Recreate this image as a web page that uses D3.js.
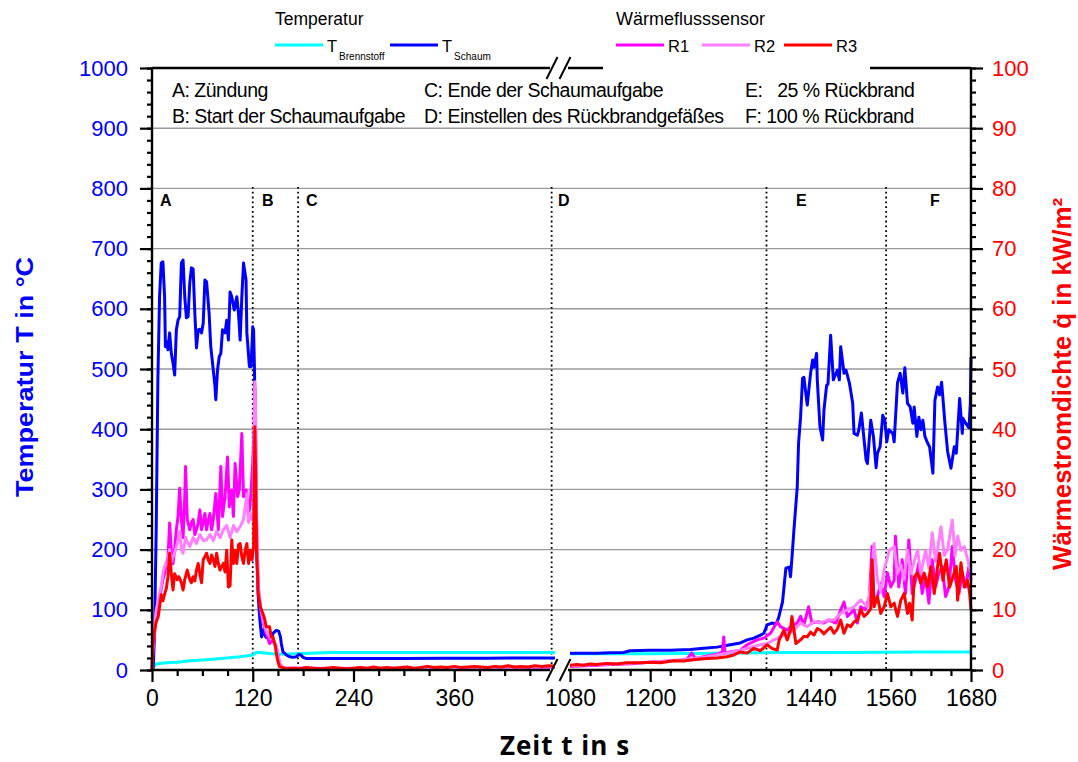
<!DOCTYPE html>
<html>
<head>
<meta charset="utf-8">
<script src="https://cdn.jsdelivr.net/npm/d3@7"></script>
<style>
  body { margin: 0; background: #fff; }
  svg text { font-family: "Liberation Sans", Arial, sans-serif; }
</style>
</head>
<body>
<svg id="chart" width="1078" height="762"></svg>
<script>
// ---------- data: [time in s, value] ----------
// Brennstofftemperatur (°C)
const tBrennstoff = [
  [0,5],[2,6],[5,10],[16,12],[30,13],[45,15.5],[65,17],[85,19.7],[105,22],[120,25],[124,29],[130,29],[136,28],
  [150,26],[172,27],[212,29],[260,29],[320,29],[400,29],[480,29],
  [1080,27],[1200,27],[1300,28],[1400,29],[1500,29],[1600,30],[1680,30]
];
// Schaumtemperatur (°C)
const tSchaum = [
  [0,0],[1.5,3],[3,60],[5,233],[7,482],[9,620],[11,676],[13,678],[15,620],[16,537],[18,545],[19,532],[21,560],
  [23,526],[25,510],[27,490],[29,565],[31,581],[33,587],[35,676],[37,681],[39,620],[41,585],[43,587],[45,643],
  [47,668],[49,666],[51,593],[53,535],[55,565],[57,566],[59,560],[61,576],[63,648],[65,645],[68,593],[70,537],
  [73,498],[75,471],[76,449],[78,498],[80,520],[82,526],[84,565],[87,560],[89,581],[91,548],[93,628],[95,620],
  [98,598],[101,620],[103,593],[105,548],[107,620],[109,676],[112,648],[113,560],[116,504],[118,504],[120,570],
  [121,565],[122,504],[123,400],[124.5,205],[126.5,122],[128.5,83],[130.5,55],[132,67],[134,59],[136,54],
  [140,55],[143,52],[144,61],[148,66],[151,64],[153,55],[154,44],[156,30],[160,25],[164,22],[168,21],[172,22],
  [175,26],[177,25],[180,21],[184,19],[220,19],[260,19],[300,19],[350,19.5],[400,19.5],[450,20],[480,20],
  [1080,28],[1100,28],[1120,28],[1140,28.5],[1160,29],[1170,32],[1200,33],[1230,33],[1260,34],[1280,36],
  [1300,38],[1320,42],[1335,45],[1345,50],[1355,53],[1365,58],[1370,61],[1375,75],[1383,78],[1388,76],
  [1392,86],[1398,113],[1403,169],[1408,171],[1410,155],[1413,200],[1415,232],[1420,304],[1422,377],[1425,420],
  [1428,485],[1430,486],[1435,440],[1440,493],[1443,515],[1445,503],[1449,526],[1450,482],[1454,404],[1458,382],
  [1460,432],[1464,473],[1466,475],[1470,556],[1474,482],[1480,498],[1483,482],[1485,537],[1490,493],[1493,498],
  [1498,477],[1503,443],[1505,393],[1510,390],[1512,398],[1516,427],[1523,349],[1525,343],[1530,415],[1534,388],
  [1538,336],[1540,360],[1544,371],[1548,423],[1551,415],[1554,379],[1557,399],[1563,393],[1565,379],[1570,477],
  [1574,493],[1578,460],[1581,502],[1585,443],[1589,437],[1593,410],[1595,437],[1599,388],[1602,420],[1605,399],
  [1608,415],[1611,388],[1615,377],[1618,371],[1623,327],[1626,448],[1630,470],[1633,457],[1636,478],[1641,410],
  [1645,363],[1650,335],[1655,371],[1658,360],[1663,451],[1667,393],[1668,418],[1672,410],[1677,402],[1679,443],
  [1680,520]
];
// Wärmeflusssensor R1 (kW/m²)
const qR1 = [
  [0,0],[1,3],[3,6],[5,9],[8,11],[11,13.5],[13,15],[15,16],[17,17.7],[19,18.5],[21,24.4],[23,19.9],[25,17.7],
  [27,20],[29,23.3],[31,25.5],[33,30.2],[35,25],[37,22],[39,28.8],[40,33.8],[42,25],[45,23.3],[47,24.5],[49,25],
  [51,22.5],[53,23.3],[55,24.4],[57,26.6],[59,23.3],[61,24.5],[63,26],[65,23.3],[67,24.8],[69,26],[71,23.3],
  [73,25],[76,29.3],[79,23.3],[82,33.8],[84,25.5],[87,28.8],[90,35.4],[92,27.1],[95,29.9],[97,25.5],[99,34.3],
  [102,28.8],[104,29.9],[107,39.3],[109,28.8],[112,29.9],[115,25.5],[117,27.7],[120,34.3],[121.5,39.9],
  [122.5,47],[123.5,38],[124.5,25],[126.5,13.8],[130,9.4],[133,7.5],[136,6.1],[140,4.4],[144,5],[148,3.9],
  [150,2.5],[152,1.1],[156,0.3],[180,0.2],[220,0.2],[260,0.3],[300,0.2],[340,0.3],[380,0.3],[420,0.4],[480,0.4],
  [1080,0.6],[1100,0.7],[1120,0.8],[1140,0.9],[1160,1.0],[1180,1.1],[1200,1.3],[1220,1.4],[1240,1.6],[1255,1.8],
  [1262,2.8],[1268,1.9],[1280,2.2],[1290,2.4],[1300,2.6],[1308,3.0],[1310,5.5],[1312,2.8],[1320,3.0],[1335,3.3],
  [1345,4.2],[1360,5],[1370,5.3],[1380,6.1],[1390,8],[1395,7.2],[1405,6.6],[1410,7.2],[1420,7.8],[1425,8.9],
  [1430,7.5],[1437,10.5],[1442,7.8],[1450,8],[1460,7.8],[1467,8.3],[1478,7.8],[1485,10],[1490,11.3],[1495,8.9],
  [1505,10],[1510,7.8],[1515,10.5],[1522,10],[1528,12.2],[1532,20.5],[1535,11.1],[1540,12.2],[1545,14.4],
  [1550,12.2],[1555,16.1],[1560,13.8],[1565,14.9],[1567,22.2],[1572,13.8],[1577,18.3],[1582,12.7],[1587,21.6],
  [1592,12.7],[1597,14.9],[1602,17.8],[1607,12.7],[1612,15.5],[1617,11.1],[1622,18.3],[1627,13.8],[1632,16.1],
  [1637,17.2],[1642,12.2],[1647,13.8],[1652,20.5],[1657,14.9],[1662,12.7],[1667,16.1],[1672,13.8],[1677,17.2],
  [1680,14.9]
];
// Wärmeflusssensor R2 (kW/m²)
const qR2 = [
  [0,0],[1,3.5],[3,7],[5,10],[8,12],[11,14],[13,16],[15,17.2],[19,18],[21,20],[23,18],[25,18.8],[27,19.5],
  [30,21],[33,23],[35,20],[37,19.4],[40,22],[43,21],[45,20.5],[49,22],[53,21],[57,22.5],[61,21.5],[65,21.6],
  [69,22.5],[73,21.5],[77,23],[81,22],[85,23.3],[89,24],[93,22],[97,24],[101,23],[105,23.8],[109,25],[113,29.3],
  [115,24.5],[117,26],[119,25],[121,25],[121.5,35],[122.5,47.9],[123.5,42],[124.5,26],[126.5,14],[130,10],
  [133,8],[136,6.5],[140,5.5],[144,5.2],[148,4],[150,2.5],[152,1.2],[156,0.4],[200,0.3],[260,0.3],[320,0.3],
  [400,0.4],[480,0.5],
  [1080,0.7],[1120,0.9],[1160,1.1],[1200,1.3],[1240,1.6],[1280,2.1],[1300,2.5],[1320,2.9],[1335,3.3],[1345,3.6],
  [1355,3.9],[1365,4.2],[1375,4.4],[1385,5],[1395,5.5],[1405,6.1],[1415,6.6],[1425,7.8],[1435,7.2],[1445,8],
  [1455,7.8],[1465,8.3],[1475,8.3],[1485,9.4],[1495,10],[1505,10.5],[1515,11.6],[1525,10.5],[1530,14],[1535,21],
  [1540,15],[1545,13],[1550,16.6],[1558,19.9],[1565,20.5],[1570,16],[1575,17.5],[1580,15],[1585,19.9],[1590,16],
  [1595,18],[1600,19.9],[1605,16],[1612,19.9],[1617,17],[1622,22.8],[1627,18],[1630,20],[1635,23.8],[1640,19],
  [1645,20],[1652,24.9],[1656,19],[1660,22.2],[1665,19.9],[1670,20.5],[1675,18.3],[1680,16.1]
];
// Wärmeflusssensor R3 (kW/m²)
const qR3 = [
  [0,0],[1,3.9],[3,6.6],[5,8],[7.5,8.9],[9,10.5],[11,12.5],[13,11.5],[15,12.6],[17,13.5],[19,15.5],[21,19.4],
  [23,16],[25,13.3],[27,16],[30,15],[32,15.5],[35,14.5],[37,13.3],[39,15],[42,16.6],[45,15],[47,14.5],[49,15.5],
  [51,14.8],[53,16.6],[55,17.7],[57,16],[59,14.5],[61,18.3],[63,18.8],[65,19.4],[67,18.3],[69,17.7],[71,19.1],
  [73,18.3],[75,17.2],[77,19.4],[79,17.7],[81,16.6],[83,17.2],[85,17.7],[87,16.3],[89,19.9],[91,13.8],[93,14],
  [95,21.6],[97,17.7],[99,19.9],[101,17.7],[103,20.8],[105,21],[107,18.8],[109,17.7],[111,19.9],[113,21],
  [115,17.7],[117,19.9],[119,18.3],[121,20.5],[121.5,27.7],[122.5,40.4],[123.5,32],[124.5,20.5],[126.5,12.7],
  [129,10.5],[132,9.4],[134,8.6],[136,7.2],[140,7.2],[142,5.5],[144,5.5],[147,3.9],[148,2.8],[150,1.4],
  [152,0.55],[156,0.4],[160,0.2],[168,0.3],[176,0.2],[184,0.4],[192,0.3],[200,0.2],[208,0.3],[216,0.4],
  [224,0.3],[232,0.2],[240,0.3],[248,0.4],[256,0.3],[264,0.5],[272,0.3],[280,0.4],[288,0.3],[296,0.4],
  [304,0.5],[312,0.3],[320,0.4],[328,0.6],[336,0.4],[344,0.5],[352,0.4],[360,0.6],[368,0.4],[376,0.5],
  [384,0.6],[392,0.5],[400,0.4],[408,0.6],[416,0.5],[424,0.7],[432,0.5],[440,0.6],[448,0.5],[456,0.7],
  [464,0.6],[472,0.7],[480,0.65],
  [1080,0.8],[1090,0.9],[1100,0.8],[1110,1.0],[1120,0.9],[1135,1.1],[1150,1.0],[1165,1.2],[1185,1.2],
  [1200,1.3],[1215,1.2],[1235,1.55],[1250,1.5],[1265,1.7],[1285,1.9],[1300,2.0],[1315,2.2],[1325,2.5],
  [1335,3.0],[1345,2.8],[1355,3.6],[1365,3.2],[1375,4.2],[1382,3.6],[1390,3.3],[1393,5.0],[1400,6.6],
  [1405,5],[1410,6.6],[1412,8.9],[1418,4.4],[1425,5],[1430,5.6],[1435,5.5],[1440,6.3],[1445,5.8],[1450,6.9],
  [1455,6.6],[1460,6.0],[1465,6.6],[1470,7.1],[1475,6.1],[1480,6.8],[1485,8.3],[1490,6.1],[1495,7.5],
  [1500,7.2],[1505,8.0],[1510,8.3],[1515,10],[1520,8.9],[1525,9.4],[1530,10.2],[1532,18.3],[1535,10.5],
  [1540,12.2],[1545,9.4],[1550,10.5],[1555,12.7],[1560,10.5],[1565,11.1],[1570,8.9],[1575,11.6],[1580,12.7],
  [1585,9.4],[1588,11.1],[1592,8.3],[1595,15.5],[1600,16.1],[1605,14.4],[1610,16.1],[1615,13.8],[1620,17.2],
  [1625,12.7],[1630,17.2],[1633,19.4],[1638,14.9],[1643,18.3],[1648,13.8],[1653,15.5],[1658,17.2],[1660,11.6],
  [1665,17.8],[1670,13.8],[1675,14.9],[1678,12.7],[1680,10]
];

// Event markers (time in s) and their letters
const eventTimes = [120, 174, 476, 1374, 1553];
const eventLetters = ["A", "B", "C", "D", "E", "F"];
const notes = [
  "A: Zündung", "B: Start der Schaumaufgabe",
  "C: Ende der Schaumaufgabe", "D: Einstellen des Rückbrandgefäßes",
  "E:   25 % Rückbrand", "F: 100 % Rückbrand"
];

// Axis ticks
const xSegments = [[0, 480], [1080, 1680]];
const xMajorTicks = [0, 120, 240, 360, 1080, 1200, 1320, 1440, 1560, 1680];
const xMinorStep = 30;
const tempTicks = d3.range(0, 1001, 100);
const fluxTicks = d3.range(0, 101, 10);

// ---------- layout ----------
const L = 152, R = 971, T = 68, B = 670;
const breakL = 555, breakR = 570;
const svg = d3.select("#chart");

const x = d3.scaleLinear().domain([0, 480, 1080, 1680]).range([L, breakL, breakR, R]);
const yT = d3.scaleLinear().domain([0, 1000]).range([B, T]);
const yQ = d3.scaleLinear().domain([0, 100]).range([B, T]);

const colors = { brenn: "#00FFFF", schaum: "#0000FF", r1: "#FF00FF", r2: "#FF80FF", r3: "#FF0000" };

// gridlines
svg.append("g").selectAll("line")
  .data(tempTicks.filter(d => d > 0 && d < 1000))
  .join("line")
  .attr("x1", L).attr("x2", R)
  .attr("y1", d => yT(d)).attr("y2", d => yT(d))
  .attr("stroke", "#9a9a9a").attr("stroke-width", 1.4);

// dotted event lines
svg.append("g").selectAll("line")
  .data(eventTimes)
  .join("line")
  .attr("x1", d => x(d)).attr("x2", d => x(d))
  .attr("y1", 187).attr("y2", B)
  .attr("stroke", "#000").attr("stroke-width", 1.8)
  .attr("stroke-dasharray", "1.8,3");

// event letters
const letterX = [160, 262, 306, 558, 796, 930];
svg.append("g").selectAll("text")
  .data(eventLetters)
  .join("text")
  .attr("x", (d, i) => letterX[i])
  .attr("y", 206)
  .attr("font-size", 16).attr("font-weight", "bold")
  .text(d => d);

// notes block
const noteX = [172, 172, 424, 424, 745, 745];
const noteY = [97, 123, 97, 123, 97, 123];
svg.append("g").selectAll("text")
  .data(notes)
  .join("text")
  .attr("x", (d, i) => noteX[i]).attr("y", (d, i) => noteY[i])
  .attr("font-size", 19.5).attr("letter-spacing", -0.5)
  .style("white-space", "pre")
  .text(d => d);

// ---------- series ----------
function drawSeries(data, yScale, color, width) {
  xSegments.forEach(([a, b]) => {
    const seg = data.filter(d => d[0] >= a && d[0] <= b);
    svg.append("path")
      .datum(seg)
      .attr("fill", "none")
      .attr("stroke", color)
      .attr("stroke-width", width)
      .attr("stroke-linejoin", "round")
      .attr("d", d3.line().x(d => x(d[0])).y(d => yScale(d[1])));
  });
}
drawSeries(tBrennstoff, yT, colors.brenn, 3);
drawSeries(tSchaum, yT, colors.schaum, 3);
drawSeries(qR1, yQ, colors.r1, 3);
drawSeries(qR2, yQ, colors.r2, 3);
drawSeries(qR3, yQ, colors.r3, 3);

// ---------- axes ----------
const axisColor = "#000";
// bottom axis, per segment
xSegments.forEach(([a, b]) => {
  const majors = xMajorTicks.filter(t => t >= a && t <= b);
  const minors = d3.range(a, b + 1, xMinorStep).filter(t => !majors.includes(t) && t < (a === 0 ? 470 : 1681));
  const gMinor = svg.append("g").attr("transform", `translate(0,${B})`)
    .call(d3.axisBottom(x).tickValues(minors).tickSize(6).tickFormat(""));
  gMinor.select(".domain").remove();
  gMinor.selectAll("line").attr("stroke-width", 2.2);
  const gMajor = svg.append("g").attr("transform", `translate(0,${B})`)
    .call(d3.axisBottom(x).tickValues(majors).tickSize(12).tickPadding(7).tickFormat(d3.format("d")));
  gMajor.select(".domain").remove();
  gMajor.selectAll("line").attr("stroke-width", 2.2);
  gMajor.selectAll("text").attr("font-size", 23).attr("fill", "#000")
    .style("font-family", "'Liberation Sans', Arial, sans-serif").attr("dy", "0.75em");
});

// left axis (temperature)
const gLMinor = svg.append("g").attr("transform", `translate(${L},0)`)
  .call(d3.axisLeft(yT).tickValues(d3.range(0, 1001, 20)).tickSize(5).tickFormat(""));
gLMinor.select(".domain").remove();
gLMinor.selectAll("line").attr("stroke-width", 2.2);
const gL = svg.append("g").attr("transform", `translate(${L},0)`)
  .call(d3.axisLeft(yT).tickValues(tempTicks).tickSize(12).tickPadding(12).tickFormat(d3.format("d")));
gL.select(".domain").remove();
gL.selectAll("line").attr("stroke-width", 2.2);
gL.selectAll("text").attr("font-size", 22).attr("fill", colors.schaum)
  .style("font-family", "'Liberation Sans', Arial, sans-serif");

// right axis (heat flux)
const gRMinor = svg.append("g").attr("transform", `translate(${R},0)`)
  .call(d3.axisRight(yQ).tickValues(d3.range(0, 101, 2)).tickSize(5).tickFormat(""));
gRMinor.select(".domain").remove();
gRMinor.selectAll("line").attr("stroke-width", 2.2);
const gR = svg.append("g").attr("transform", `translate(${R},0)`)
  .call(d3.axisRight(yQ).tickValues(fluxTicks).tickSize(12).tickPadding(9).tickFormat(d3.format("d")));
gR.select(".domain").remove();
gR.selectAll("line").attr("stroke-width", 2.2);
gR.selectAll("text").attr("font-size", 22).attr("fill", colors.r3)
  .style("font-family", "'Liberation Sans', Arial, sans-serif");

// frame lines with break marks
const frame = svg.append("g").attr("stroke", axisColor).attr("stroke-width", 2.4).attr("fill", "none");
frame.append("line").attr("x1", L).attr("x2", L).attr("y1", T).attr("y2", B);
frame.append("line").attr("x1", R).attr("x2", R).attr("y1", T).attr("y2", B);
[B, T].forEach(yy => {
  frame.append("line").attr("x1", L).attr("x2", breakL - 5).attr("y1", yy).attr("y2", yy);
  frame.append("line").attr("x1", breakR - 2).attr("x2", R).attr("y1", yy).attr("y2", yy);
  [breakL - 3, breakR - 5].forEach(cx => {
    frame.append("line")
      .attr("x1", cx - 5.5).attr("y1", yy + 11)
      .attr("x2", cx + 5.5).attr("y2", yy - 11)
      .attr("stroke-width", 2);
  });
});

// axis titles
svg.append("text")
  .attr("transform", "translate(33,377) rotate(-90)")
  .attr("text-anchor", "middle")
  .attr("font-size", 24).attr("font-weight", "bold")
  .attr("fill", colors.schaum)
  .attr("textLength", 240).attr("lengthAdjust", "spacingAndGlyphs")
  .text("Temperatur T in °C");
svg.append("text")
  .attr("transform", "translate(1071,384) rotate(-90)")
  .attr("text-anchor", "middle")
  .attr("font-size", 25).attr("font-weight", "bold")
  .attr("fill", colors.r3)
  .attr("textLength", 372).attr("lengthAdjust", "spacingAndGlyphs")
  .text("Wärmestromdichte q\u0307 in kW/m²");
svg.append("text")
  .attr("x", 565).attr("y", 755)
  .attr("text-anchor", "middle")
  .attr("font-size", 26).attr("font-weight", "bold")
  .attr("letter-spacing", 1)
  .style("font-family", "'Open Sans', sans-serif")
  .text("Zeit t in s");

// ---------- legend ----------
const legend = svg.append("g");
// the heat-flux legend box is opaque and sits over the top frame line
legend.append("rect").attr("x", 603).attr("y", 4).attr("width", 267).attr("height", 68).attr("fill", "#fff");
legend.append("text").attr("x", 275).attr("y", 25).attr("font-size", 17.5).text("Temperatur");
legend.append("text").attr("x", 616).attr("y", 25).attr("font-size", 18).text("Wärmeflusssensor");
const legItems = [
  { x: 275, color: colors.brenn, main: "T", sub: "Brennstoff" },
  { x: 390, color: colors.schaum, main: "T", sub: "Schaum" },
  { x: 616, color: colors.r1, main: "R1", sub: "" },
  { x: 702, color: colors.r2, main: "R2", sub: "" },
  { x: 784, color: colors.r3, main: "R3", sub: "" }
];
legItems.forEach(it => {
  legend.append("line").attr("x1", it.x).attr("x2", it.x + 48).attr("y1", 45).attr("y2", 45)
    .attr("stroke", it.color).attr("stroke-width", 3);
  const t = legend.append("text").attr("x", it.x + 52).attr("y", 52).attr("font-size", 16.5);
  t.append("tspan").text(it.main);
  if (it.sub) t.append("tspan").attr("dx", 2).attr("dy", 8).attr("font-size", 10).text(it.sub);
});
</script>
</body>
</html>
